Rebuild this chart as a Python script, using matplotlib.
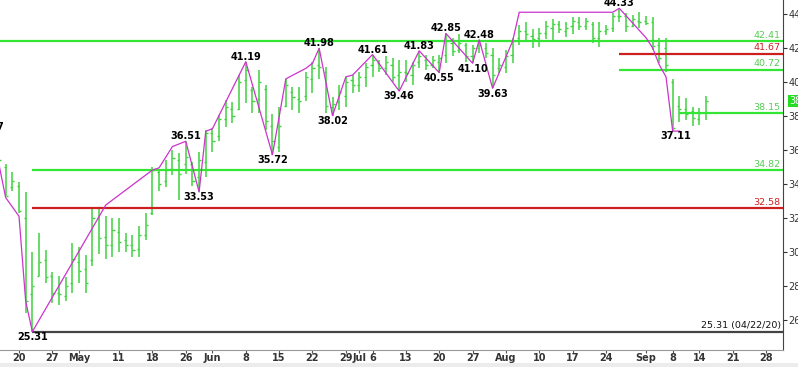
import numpy as np
import pandas as pd
import matplotlib
matplotlib.use("Agg")
import matplotlib.pyplot as plt
from matplotlib.transforms import blended_transform_factory
from matplotlib.patches import Rectangle

# 交易日（去掉节假日）
holidays = ["2020-05-25", "2020-07-03", "2020-09-07"]
dates = [d for d in pd.bdate_range("2020-04-15", "2020-10-02") if d.strftime("%Y-%m-%d") not in holidays]
date_pos = {d.strftime("%Y-%m-%d"): k for k, d in enumerate(dates)}

# 日线 OHLC (2020-04-15 ~ 2020-09-15)
opens = [36.8, 35.0, 33.8, 33.9, 32.0, 27.5, 28.6, 29.5, 28.6, 27.6, 27.4, 28.2, 29.4, 29.0,
         29.5, 32.0, 30.9, 30.4, 31.2, 30.7, 30.4, 30.2, 31.0, 32.3, 34.7, 34.2, 34.9, 35.4,
         35.2, 35.2, 34.4, 35.3, 37.0, 36.8, 37.8, 38.4, 38.4, 40.1, 39.5, 39.0, 39.6, 37.4,
         36.2, 38.6, 39.4, 39.0, 39.2, 40.2, 41.0, 40.6, 38.5, 38.8, 39.2, 40.1, 39.8, 40.3,
         41.0, 41.1, 40.8, 41.0, 40.4, 40.6, 40.4, 41.2, 41.3, 41.0, 41.2, 41.6, 42.3, 41.9,
         42.2, 41.5, 42.0, 42.0, 41.6, 40.8, 40.9, 41.6, 42.6, 43.0, 42.7, 42.6, 42.9, 43.2,
         43.4, 43.0, 43.3, 43.5, 43.3, 43.4, 42.6, 43.0, 43.2, 43.9, 43.9, 43.3, 43.6, 43.6,
         43.5, 42.2, 42.0, 40.0, 38.6, 38.4, 38.3, 37.8, 38.2]
highs = [37.2, 35.2, 34.7, 34.1, 33.5, 30.0, 31.1, 30.1, 28.8, 28.6, 28.5, 30.5, 30.3, 29.8,
         32.5, 32.6, 32.1, 32.0, 32.0, 31.1, 31.0, 31.5, 32.3, 35.0, 34.9, 35.4, 36.0, 35.8,
         36.51, 35.3, 35.9, 37.2, 37.3, 38.06, 38.94, 38.8, 40.4, 41.19, 39.7, 40.7, 39.8, 38.1,
         38.5, 40.2, 39.7, 39.7, 40.6, 41.2, 41.98, 40.9, 39.1, 39.8, 40.3, 40.4, 40.6, 41.1,
         41.61, 41.3, 41.5, 41.4, 41.3, 41.3, 41.2, 41.83, 41.6, 41.5, 41.6, 42.85, 42.6, 42.8,
         42.3, 42.2, 42.48, 42.3, 42.0, 41.4, 41.9, 42.6, 43.35, 43.5, 43.1, 43.2, 43.6, 43.7,
         43.6, 43.5, 43.8, 43.8, 43.75, 43.5, 43.5, 43.35, 44.06, 44.33, 44.06, 43.94, 44.1, 43.9,
         43.8, 42.6, 42.6, 40.2, 39.2, 39.06, 38.53, 38.47, 39.2]
lows = [35.2, 33.3, 33.6, 32.3, 26.4, 25.31, 28.6, 28.2, 27.0, 26.9, 27.1, 27.6, 28.2, 27.6,
        29.2, 29.9, 29.6, 29.7, 30.0, 30.0, 29.7, 29.7, 30.7, 32.2, 33.6, 33.8, 34.5, 33.05,
        34.6, 33.9, 33.53, 34.4, 35.9, 36.5, 37.35, 37.6, 38.35, 38.76, 38.2, 38.2, 37.2, 35.72,
        35.9, 38.5, 38.35, 38.2, 38.9, 39.35, 40.2, 38.2, 38.02, 38.35, 38.5, 39.35, 39.4, 39.7,
        40.3, 40.6, 40.4, 40.0, 39.46, 40.0, 39.8, 40.8, 40.7, 40.8, 40.55, 41.1, 41.5, 41.7,
        41.2, 41.1, 41.7, 41.4, 39.63, 40.5, 40.5, 41.1, 42.2, 42.4, 42.0, 42.06, 42.5, 42.4,
        42.9, 42.65, 42.8, 43.06, 43.06, 42.3, 42.06, 42.76, 42.94, 43.53, 42.94, 43.24, 43.2, 43.35,
        41.9, 41.1, 40.6, 37.11, 37.65, 37.76, 37.4, 37.47, 37.76]
closes = [35.4, 33.3, 34.2, 32.4, 27.1, 28.0, 29.4, 28.5, 27.6, 27.5, 28.0, 29.6, 28.9, 28.2,
          32.0, 30.8, 30.4, 31.3, 30.6, 30.4, 30.1, 31.0, 31.6, 34.8, 34.0, 34.8, 35.5, 34.6,
          35.6, 34.2, 35.4, 37.0, 36.5, 37.8, 38.5, 38.0, 40.0, 40.7, 38.9, 40.0, 37.7, 36.5,
          37.4, 39.8, 39.1, 38.9, 40.3, 40.8, 40.9, 38.6, 38.7, 39.4, 40.0, 39.8, 40.3, 40.9,
          41.3, 40.8, 41.2, 40.3, 40.6, 40.5, 41.0, 41.5, 41.0, 41.3, 41.4, 42.4, 41.8, 42.3,
          41.5, 42.0, 42.2, 41.7, 40.4, 41.0, 41.5, 42.4, 43.0, 42.8, 42.5, 42.9, 43.3, 43.4,
          43.1, 43.2, 43.6, 43.3, 43.6, 42.6, 43.0, 43.1, 43.9, 43.9, 43.3, 43.7, 43.5, 43.45,
          42.1, 41.4, 41.0, 37.3, 38.4, 38.1, 37.9, 38.2, 38.88]

# 摆动线 (日期, 价格)
swing_dates = ["2020-04-14", "2020-04-16", "2020-04-20", "2020-04-21", "2020-04-22", "2020-05-07",
               "2020-05-18", "2020-05-19", "2020-05-21", "2020-05-26", "2020-05-28", "2020-05-29",
               "2020-06-01", "2020-06-08", "2020-06-12", "2020-06-16", "2020-06-19", "2020-06-22",
               "2020-06-23", "2020-06-25", "2020-06-29", "2020-06-30", "2020-07-06", "2020-07-10",
               "2020-07-15", "2020-07-20", "2020-07-21", "2020-07-27", "2020-07-28", "2020-07-30",
               "2020-08-04", "2020-08-05", "2020-08-25", "2020-08-26", "2020-09-01", "2020-09-02",
               "2020-09-03", "2020-09-04", "2020-09-08", "2020-09-09"]
swing_prices = [37.07, 33.2, 32.1, 27.1, 25.31, 32.76, 34.82, 34.95, 36.2, 36.51, 33.53, 37.1,
                37.25, 41.19, 35.72, 40.18, 40.8, 41.1, 41.98, 38.02, 40.3, 40.4, 41.61, 39.46,
                41.83, 40.55, 42.85, 41.10, 42.48, 39.63, 42.4, 44.1, 44.1, 44.33, 42.6, 42.0,
                41.0, 40.3, 37.11, 37.11]

# 标注 (日期, 价格, 文本, 上/下)
pivot_labels = [("2020-04-14", 37.07, "37.07", "up"), ("2020-04-22", 25.31, "25.31", "dn"),
                ("2020-05-26", 36.51, "36.51", "up"), ("2020-05-28", 33.53, "33.53", "dn"),
                ("2020-06-08", 41.19, "41.19", "up"), ("2020-06-12", 35.72, "35.72", "dn"),
                ("2020-06-23", 41.98, "41.98", "up"), ("2020-06-25", 38.02, "38.02", "dn"),
                ("2020-07-06", 41.61, "41.61", "up"), ("2020-07-10", 39.46, "39.46", "dn"),
                ("2020-07-15", 41.83, "41.83", "up"), ("2020-07-20", 40.55, "40.55", "dn"),
                ("2020-07-21", 42.85, "42.85", "up"), ("2020-07-27", 41.10, "41.10", "dn"),
                ("2020-07-28", 42.48, "42.48", "up"), ("2020-07-30", 39.63, "39.63", "dn"),
                ("2020-08-26", 44.33, "44.33", "up"), ("2020-09-08", 37.11, "37.11", "dn")]

# 水平线 (价格, 起始日期, 颜色, 标签)
level_prices = [42.41, 41.67, 40.72, 38.15, 34.82, 32.58, 25.31]
level_starts = ["2020-04-14", "2020-08-26", "2020-08-26", "2020-09-09", "2020-04-22", "2020-04-22", "2020-04-22"]
level_colors = ["#33e633", "#cc2020", "#33e633", "#33e633", "#33e633", "#cc2020", "#444444"]
level_labels = ["42.41", "41.67", "40.72", "38.15", "34.82", "32.58", "25.31 (04/22/20)"]
level_text_colors = ["#55cc55", "#cc2020", "#55cc55", "#55cc55", "#55cc55", "#cc2020", "#111111"]

tick_dates = ["2020-04-20", "2020-04-27", "2020-05-01", "2020-05-11", "2020-05-18", "2020-05-26",
              "2020-06-01", "2020-06-08", "2020-06-15", "2020-06-22", "2020-06-29", "2020-07-01",
              "2020-07-06", "2020-07-13", "2020-07-20", "2020-07-27", "2020-08-03", "2020-08-10",
              "2020-08-17", "2020-08-24", "2020-09-01", "2020-09-08", "2020-09-14", "2020-09-21",
              "2020-09-28"]
tick_labels = ["20", "27", "May", "11", "18", "26", "Jun", "8", "15", "22", "29", "Jul", "6", "13",
               "20", "27", "Aug", "10", "17", "24", "Sep", "8", "14", "21", "28"]
last_price = 38.88


def pos(d):
    return date_pos.get(d, date_pos["2020-04-15"] - 1) if d != "2020-04-14" else -1


fig = plt.figure(figsize=(7.98, 3.67), dpi=100)
ax = fig.add_axes([0, 17 / 367, 783 / 798, 350 / 367])

bar_color = "#3fd23f"
x = np.arange(len(opens))
ax.vlines(x, lows, highs, color=bar_color, lw=1.1)
ax.hlines(opens, x - 0.32, x, color=bar_color, lw=1.0)
ax.hlines(closes, x, x + 0.32, color=bar_color, lw=1.0)

# 水平线
for p, s, c, lab, tc in zip(level_prices, level_starts, level_colors, level_labels, level_text_colors):
    ax.hlines(p, pos(s), 130, color=c, lw=1.6, zorder=3)
    ax.text(117.2, p + 0.08, lab, color=tc, fontsize=6.8, ha="right", va="bottom", zorder=5)

sx = [pos(d) for d in swing_dates]
ax.plot(sx, swing_prices, color="#cc33cc", lw=0.9, zorder=4)

for d, p, t, w in pivot_labels:
    xp = pos(d)
    if t == "37.11":
        xp += 0.5
    if t == "37.07":
        xp -= 0.6
    if w == "up":
        ax.text(xp, p + 0.0, t, fontsize=7, fontweight="bold", ha="center", va="bottom", zorder=6, clip_on=False)
    else:
        ax.text(xp, p - 0.02, t, fontsize=7, fontweight="bold", ha="center", va="top", zorder=6, clip_on=False)

ax.set_xlim(0.15, 117.54)
ax.set_ylim(24.235, 44.82)

ax.set_xticks([pos(d) for d in tick_dates])
ax.set_xticklabels(tick_labels, fontsize=7, fontweight="bold", color="#333333")
ax.set_yticks(np.arange(26, 45, 2))
ax.yaxis.tick_right()
ax.tick_params(axis="y", labelsize=7, colors="#333333", length=3, pad=1)
ax.tick_params(axis="x", length=2, pad=0.5, colors="#555555", labelcolor="#333333")
for sp in ["left", "top"]:
    ax.spines[sp].set_visible(False)
ax.spines["right"].set_color("#444444")
ax.spines["bottom"].set_color("#999999")

# 最新价标记
tr = blended_transform_factory(ax.transAxes, ax.transData)
ax.text(1.008, last_price, "38", transform=tr, fontsize=7, color="white", va="center", ha="left",
        bbox=dict(boxstyle="square,pad=0.15", fc="#22dd22", ec="none"), clip_on=False)

fig.patches.append(Rectangle((0, 0), 1, 4 / 367, transform=fig.transFigure, fc="#ececec", ec="none"))

fig.savefig("out.png", dpi=100)
